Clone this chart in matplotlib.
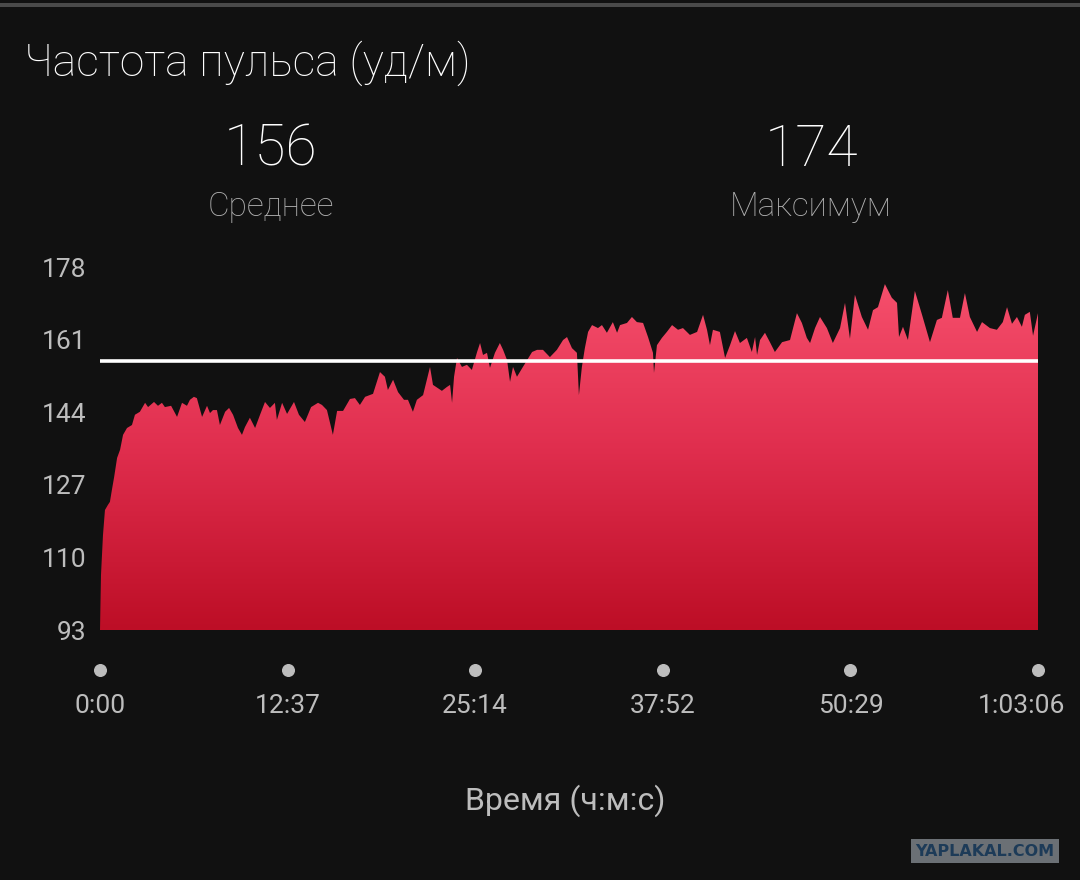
import numpy as np
import matplotlib
matplotlib.use("Agg")
import matplotlib.pyplot as plt
from matplotlib.colors import LinearSegmentedColormap
from matplotlib.patches import Rectangle
import matplotlib.transforms as mtransforms

plt.rcParams['font.family'] = ['Roboto', 'DejaVu Sans']

# heart rate trace (seconds, bpm)
time_s = [0, 4, 12, 20, 32, 40, 48, 57, 69, 81, 93, 109, 129, 141, 161, 182, 194, 218, 234, 250,
          262, 287, 311, 331, 351, 363, 379, 391, 412, 432, 444, 456, 472, 484, 505, 521, 537, 557,
          573, 585, 605, 626, 646, 666, 686, 706, 714, 735, 755, 783, 803, 827, 852, 880, 896, 916,
          940, 957, 981, 1009, 1029, 1049, 1070, 1102, 1130, 1150, 1162, 1183, 1203, 1227, 1243,
          1263, 1279, 1304, 1332, 1344, 1380, 1400, 1413, 1421, 1429, 1441, 1461, 1481, 1501, 1522,
          1534, 1546, 1562, 1574, 1594, 1614, 1627, 1643, 1655, 1667, 1683, 1707, 1744, 1764, 1788,
          1816, 1844, 1869, 1885, 1905, 1925, 1933, 1945, 1957, 1970, 1986, 2010, 2026, 2046, 2070,
          2087, 2099, 2127, 2147, 2167, 2192, 2212, 2232, 2236, 2248, 2268, 2288, 2309, 2333, 2353,
          2381, 2410, 2434, 2450, 2462, 2474, 2502, 2523, 2543, 2563, 2583, 2611, 2631, 2644, 2652,
          2664, 2684, 2704, 2724, 2753, 2785, 2813, 2833, 2853, 2866, 2886, 2906, 2934, 2958, 2987,
          3007, 3027, 3047, 3075, 3100, 3120, 3140, 3168, 3196, 3217, 3225, 3241, 3261, 3289, 3318,
          3350, 3378, 3398, 3422, 3442, 3471, 3491, 3511, 3540, 3560, 3592, 3620, 3644, 3661, 3681,
          3701, 3721, 3733, 3753, 3766, 3786]
heart_rate = [93.0, 105.9, 115.2, 121.1, 122.3, 123.0, 125.8, 128.8, 133.3, 135.2, 138.7, 140.3,
              141.0, 143.4, 144.1, 146.2, 145.2, 146.4, 145.5, 146.2, 145.2, 145.5, 142.9, 146.2,
              145.5, 146.9, 147.6, 147.3, 142.9, 145.5, 143.8, 144.5, 144.5, 141.0, 144.1, 145.0,
              143.4, 140.3, 138.7, 140.5, 142.7, 140.3, 143.4, 146.4, 145.0, 146.2, 142.2, 146.2,
              143.6, 146.4, 143.4, 141.7, 145.2, 146.2, 145.7, 144.5, 138.7, 144.3, 144.3, 147.1,
              147.3, 145.7, 147.6, 148.3, 153.4, 152.3, 149.2, 151.6, 148.7, 146.9, 146.9, 144.1,
              146.9, 148.0, 154.6, 150.4, 149.0, 149.9, 150.4, 146.2, 152.3, 156.7, 154.6, 155.1,
              153.9, 158.1, 160.2, 157.4, 157.9, 154.4, 157.9, 160.2, 158.6, 156.2, 151.1, 154.6,
              152.3, 154.6, 158.1, 158.6, 158.6, 156.9, 158.6, 160.9, 161.6, 159.0, 157.9, 148.0,
              154.6, 159.0, 162.8, 164.4, 163.7, 164.4, 162.6, 165.1, 162.6, 164.4, 164.9, 166.3,
              165.1, 164.9, 161.6, 157.9, 153.2, 159.7, 161.4, 162.8, 164.4, 163.3, 163.7, 162.1,
              162.8, 166.8, 163.3, 159.7, 163.3, 162.8, 156.7, 159.7, 163.0, 160.2, 161.4, 158.1,
              161.6, 157.4, 160.9, 162.6, 160.4, 158.1, 160.4, 160.9, 167.2, 164.9, 161.4, 160.2,
              163.7, 166.3, 163.7, 160.2, 163.7, 169.6, 161.2, 171.5, 166.3, 163.3, 167.9, 168.6,
              174.0, 170.8, 169.6, 161.6, 164.0, 160.9, 172.4, 166.8, 160.4, 165.6, 166.1, 172.6,
              166.1, 166.1, 171.9, 166.3, 162.8, 165.1, 163.7, 163.3, 165.1, 168.6, 164.7, 166.3,
              164.0, 166.8, 167.5, 161.9, 167.2]

avg_hr = 156
max_hr = 174
y_ticks = [93, 110, 127, 144, 161, 178]
x_ticks = [0, 757, 1514, 2272, 3029, 3786]
x_labels = ["0:00", "12:37", "25:14", "37:52", "50:29", "1:03:06"]

bg = '#111111'
W, H = 1080, 880
fig = plt.figure(figsize=(W / 100, H / 100), dpi=100, facecolor=bg)

def fx(px):
    return px / W

def fy(py):
    return 1 - py / H

# thin separator bar at the very top
fig.patches.append(Rectangle((0, fy(7)), 1, 4 / H, transform=fig.transFigure,
                             facecolor='#4a4a4a', edgecolor='none'))

ax = fig.add_axes([fx(100), fy(630), fx(1038) - fx(100), fy(267) - fy(630)])
ax.set_facecolor(bg)
ax.set_xlim(0, 3786)
ax.set_ylim(93, 178)
for s in ax.spines.values():
    s.set_visible(False)

# gradient filled area
poly = ax.fill_between(time_s, 93, heart_rate, facecolor='none', edgecolor='none')
cmap = LinearSegmentedColormap.from_list('hr', ['#bd0e26', '#e02e4e', '#f8526f'])
grad = np.linspace(0, 1, 256).reshape(-1, 1)
im = ax.imshow(grad, extent=[0, 3786, 93, 178], origin='lower', aspect='auto', cmap=cmap,
               zorder=2)
im.set_clip_path(poly.get_paths()[0], transform=ax.transData)

ax.axhline(avg_hr, color='white', lw=2.6, zorder=3)

ax.set_yticks(y_ticks)
ax.set_yticklabels([str(v) for v in y_ticks])
ax.set_xticks(x_ticks)
ax.set_xticklabels(x_labels)
ax.tick_params(axis='y', length=0, pad=10, labelsize=19, labelcolor='#bdbdbd')
ax.tick_params(axis='x', length=0, pad=46, labelsize=19, labelcolor='#bdbdbd')

# last time label is pulled inward so it stays on the canvas, as in the app
last = ax.get_xticklabels()[-1]
last.set_transform(last.get_transform()
                   + mtransforms.ScaledTranslation(-0.16, 0, fig.dpi_scale_trans))

# dots under the time ticks
trans = mtransforms.blended_transform_factory(ax.transData, ax.transAxes)
dot_y = (630 - 670) / (630 - 267)
ax.scatter(x_ticks, [dot_y] * len(x_ticks), s=70, color='#bdbdbd', transform=trans,
           clip_on=False, zorder=4)

fig.text(fx(24), fy(63), "Частота пульса (уд/м)", color='white', fontsize=32,
         fontweight='light', ha='left', va='center')
fig.text(fx(271), fy(150), str(avg_hr), color='white', fontsize=41, fontweight='light',
         ha='center', va='center')
fig.text(fx(271), fy(207), "Среднее", color='#b0b0b0', fontsize=24, fontweight='light',
         ha='center', va='center')
fig.text(fx(811), fy(150), str(max_hr), color='white', fontsize=41, fontweight='light',
         ha='center', va='center')
fig.text(fx(811), fy(207), "Максимум", color='#b0b0b0', fontsize=24, fontweight='light',
         ha='center', va='center')
fig.text(fx(565), fy(801), "Время (ч:м:с)", color='#bdbdbd', fontsize=23,
         ha='center', va='center')

fig.text(fx(985), fy(851), "YAPLAKAL.COM", color='#1d3b58', fontsize=11.5, fontweight='bold',
         family=['DejaVu Sans'], ha='center', va='center',
         bbox=dict(boxstyle='square,pad=0.3', facecolor='#6b7075', edgecolor='none'))

fig.savefig('out.png', dpi=100, facecolor=bg)
